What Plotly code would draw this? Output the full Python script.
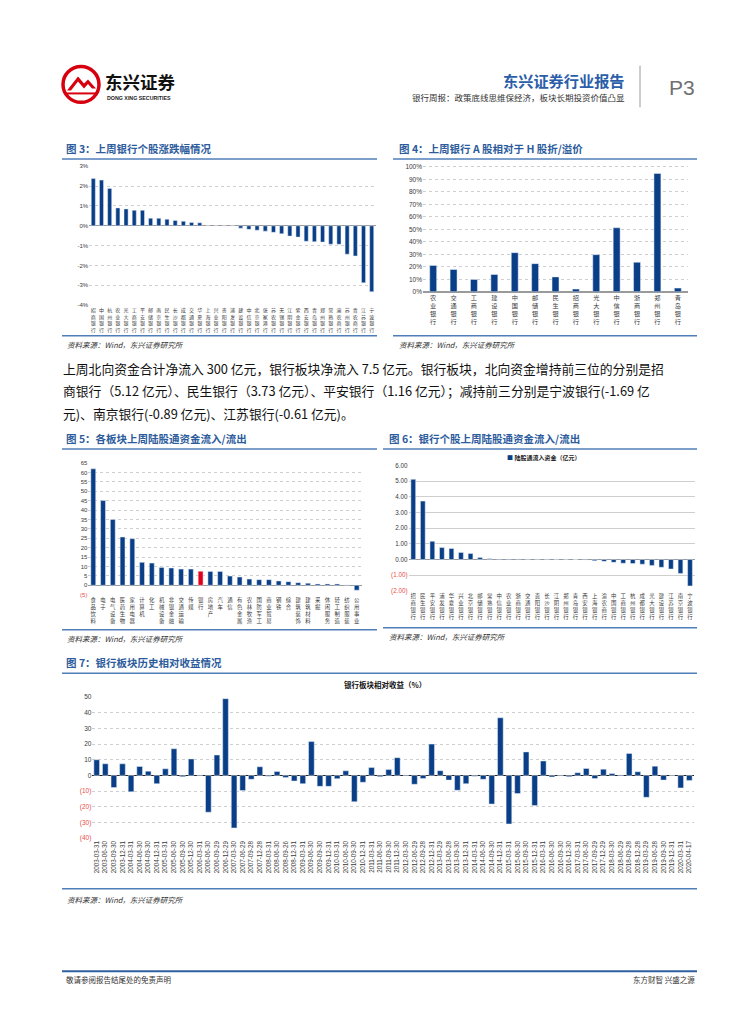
import plotly.graph_objects as go

PAGE_W, PAGE_H = 755, 1024
OFF = 8  # default body margin of the html page
W, H = PAGE_W - 2 * OFF, PAGE_H - 2 * OFF
BLUE = "#0a3f87"
RED_BAR = "#e2001a"
TITLE_BLUE = "#2d5c9c"
LINE_BLUE = "#4f7fb8"
NEG_RED = "#e8504a"
GRID = "#cfcfcf"
FONT = "Noto Sans CJK SC"
NUMFONT = "Liberation Sans"

# ---------------- data ----------------
fig3_banks = ["招商银行", "中国银行", "杭州银行", "农业银行", "光大银行", "工商银行", "平安银行",
              "邮储银行", "南京银行", "民生银行", "长沙银行", "成都银行", "交通银行", "华夏银行",
              "上海银行", "兴业银行", "贵阳银行", "浦发银行", "建设银行", "中信银行", "北京银行",
              "张家港行", "苏农银行", "无锡银行", "江阴银行", "紫金银行", "西安银行", "青岛银行",
              "郑州银行", "常熟银行", "渝农商行", "苏州银行", "青农商行", "江苏银行", "宁波银行"]
fig3_chg = [2.38, 2.30, 1.88, 0.90, 0.85, 0.78, 0.78, 0.38, 0.38, 0.33, 0.27, 0.23, 0.17, 0.15,
            0.0, 0.0, 0.0, 0.0, -0.12, -0.18, -0.22, -0.27, -0.33, -0.40, -0.52, -0.57, -0.78,
            -0.80, -0.82, -0.93, -0.93, -1.43, -1.52, -2.87, -3.32]

fig4_banks = ["农业银行", "交通银行", "工商银行", "建设银行", "中国银行", "邮储银行", "民生银行",
              "招商银行", "光大银行", "中信银行", "浙商银行", "郑州银行", "青岛银行"]
fig4_prem = [21.0, 17.8, 9.8, 13.8, 31.3, 22.5, 11.9, 2.1, 29.7, 51.2, 23.6, 94.7, 2.9]

fig5_sectors = ["食品饮料", "电子", "电气设备", "医药生物", "家用电器", "计算机", "化工", "机械设备",
                "非银金融", "交通运输", "传媒", "银行", "房地产", "汽车", "通信", "有色金属",
                "农林牧渔", "国防军工", "商业贸易", "钢铁", "综合", "建筑装饰", "建筑材料", "采掘",
                "休闲服务", "轻工制造", "纺织服装", "公用事业"]
fig5_flow = [62.0, 45.1, 35.0, 25.7, 24.8, 12.2, 11.8, 9.5, 9.2, 8.6, 8.6, 7.5, 7.4, 7.4, 4.9,
             4.4, 3.3, 3.0, 3.0, 2.3, 1.9, 1.4, 1.1, 0.7, 0.7, 0.7, 0.2, -2.6]
fig5_highlight = "银行"

fig6_banks = ["招商银行", "民生银行", "平安银行", "浦发银行", "华夏银行", "兴业银行", "北京银行",
              "邮储银行", "常熟银行", "中信银行", "农业银行", "浙商银行", "交通银行", "贵阳银行",
              "长沙银行", "江阴银行", "郑州银行", "青岛银行", "西安银行", "上海银行", "渝农商行",
              "中国银行", "工商银行", "杭州银行", "成都银行", "光大银行", "建设银行", "江苏银行",
              "南京银行", "宁波银行"]
fig6_flow = [5.12, 3.73, 1.16, 0.76, 0.70, 0.45, 0.38, 0.12, 0.04, 0.03, 0.03, 0.03, 0.02, 0.02,
             0.02, 0.01, 0.01, 0.00, -0.03, -0.08, -0.12, -0.18, -0.24, -0.26, -0.30, -0.38,
             -0.50, -0.61, -0.89, -1.69]

fig7_dates = ["2003-03-31", "2003-06-30", "2003-09-30", "2003-12-31", "2004-03-31", "2004-06-30",
              "2004-09-30", "2004-12-31", "2005-03-31", "2005-06-30", "2005-09-30", "2005-12-30",
              "2006-03-31", "2006-06-30", "2006-09-29", "2006-12-29", "2007-03-30", "2007-06-29",
              "2007-09-28", "2007-12-28", "2008-03-31", "2008-06-30", "2008-09-26", "2008-12-31",
              "2009-03-31", "2009-06-30", "2009-09-30", "2009-12-31", "2010-03-31", "2010-06-30",
              "2010-09-30", "2010-12-31", "2011-03-31", "2011-06-30", "2011-09-30", "2011-12-30",
              "2012-03-30", "2012-06-29", "2012-09-28", "2012-12-31", "2013-03-29", "2013-06-28",
              "2013-09-30", "2013-12-31", "2014-03-31", "2014-06-30", "2014-09-30", "2014-12-31",
              "2015-03-31", "2015-06-30", "2015-09-30", "2015-12-31", "2016-03-31", "2016-06-30",
              "2016-09-30", "2016-12-30", "2017-03-31", "2017-06-30", "2017-09-29", "2017-12-29",
              "2018-03-30", "2018-06-29", "2018-09-28", "2018-12-28", "2019-03-29", "2019-06-28",
              "2019-09-30", "2019-12-31", "2020-03-31", "2020-04-17"]
fig7_rel = [10.0, 7.4, -7.8, 7.4, -10.5, 5.7, 2.7, -5.3, 4.2, 17.0, -0.8, 10.5,
            0.2, -23.5, 13.0, 49.0, -33.6, -9.7, -2.5, 5.5, -0.6, 2.5, -1.3, -3.6,
            -5.3, 21.6, -7.0, -7.0, -2.1, 2.9, -16.8, -4.4, 5.0, -0.8, 3.7, 11.3,
            0.2, -5.7, -2.0, 20.0, 3.0, -3.0, -9.5, -5.3, -0.5, -2.5, -18.3, 36.8,
            -31.0, -11.6, 15.0, -19.3, 9.2, -1.0, -0.3, -0.8, 1.7, 4.4, -2.0, 4.0,
            1.2, 0.2, 14.0, 2.3, -14.0, 5.9, -3.0, 0.1, -8.0, -3.2]

fig3_yticks = [3, 2, 1, 0, -1, -2, -3, -4]
fig4_yticks = [0, 10, 20, 30, 40, 50, 60, 70, 80, 90, 100]
fig5_yticks = [65, 60, 55, 50, 45, 40, 35, 30, 25, 20, 15, 10, 5, 0, -5]
fig6_yticks = [6, 5, 4, 3, 2, 1, 0, -1, -2]
fig7_yticks = [50, 40, 30, 20, 10, 0, -10, -20, -30, -40]


# ---------------- helpers ----------------
def X(p):
    return (p - OFF) / W


def Y(p):
    return 1 - (p - OFF) / H


def vstack(s):
    return "<br>".join(list(s))


def neg_paren(v, fmt):
    if v < 0:
        return f"<span style='color:{NEG_RED}'>({fmt.format(-v)})</span>"
    return fmt.format(v)


fig = go.Figure()

fig.add_trace(go.Bar(x=fig3_banks, y=fig3_chg, marker_color=BLUE, xaxis="x", yaxis="y",
                     showlegend=False, hoverinfo="skip", width=0.5))
fig.add_trace(go.Bar(x=fig4_banks, y=fig4_prem, marker_color=BLUE, xaxis="x2", yaxis="y2",
                     showlegend=False, hoverinfo="skip", width=0.34))
fig.add_trace(go.Bar(x=fig5_sectors, y=fig5_flow,
                     marker_color=[RED_BAR if s == fig5_highlight else BLUE for s in fig5_sectors],
                     xaxis="x3", yaxis="y3", showlegend=False, hoverinfo="skip", width=0.5))
fig.add_trace(go.Bar(x=fig6_banks, y=fig6_flow, marker_color=BLUE, xaxis="x4", yaxis="y4",
                     showlegend=False, hoverinfo="skip", width=0.5))
fig.add_trace(go.Bar(x=fig7_dates, y=fig7_rel, marker_color=BLUE, xaxis="x5", yaxis="y5",
                     showlegend=False, hoverinfo="skip", width=0.66))

tick_col = "#3a3a3a"


def cat_axis(domain, anchor, cats, labels, size, showline=False, angle=0, family=FONT):
    return dict(domain=[X(domain[0]), X(domain[1])], anchor=anchor, type="category",
                tickmode="array", tickvals=cats, ticktext=labels, tickangle=angle,
                tickfont=dict(size=size, family=family, color=tick_col),
                range=[-0.5, len(cats) - 0.5], showgrid=False, ticks="",
                showline=showline, linecolor="#9a9a9a", linewidth=1, zeroline=False,
                fixedrange=True)


def val_axis(domain_px, anchor, rng, tickvals, ticktext, size, dash="dot", zc="#9a9a9a"):
    return dict(domain=[Y(domain_px[1]), Y(domain_px[0])], anchor=anchor, range=rng,
                tickmode="array", tickvals=tickvals, ticktext=ticktext,
                tickfont=dict(size=size, family=NUMFONT, color=tick_col),
                showgrid=True, gridcolor=GRID, griddash=dash, gridwidth=1,
                zeroline=True, zerolinecolor=zc, zerolinewidth=1, ticks="",
                showline=False, fixedrange=True)


layout_axes = dict(
    xaxis=cat_axis((89.2, 375.8), "y", fig3_banks, [vstack(b) for b in fig3_banks], 5),
    yaxis=val_axis((163.3, 305.3), "x", [-4.05, 3.05], fig3_yticks,
                   [f"{v}%" for v in fig3_yticks], 6),
    xaxis2=cat_axis((423, 688), "y2", fig4_banks, [vstack(b) for b in fig4_banks], 6.2,
                    showline=True),
    yaxis2=val_axis((163.7, 290.7), "x2", [0, 101], fig4_yticks,
                    [f"{v}%" for v in fig4_yticks], 6.5),
    xaxis3=cat_axis((88.4, 361.6), "y3", fig5_sectors, [vstack(s) for s in fig5_sectors], 5.4),
    yaxis3=val_axis((462.4, 596.7), "x3", [-5.5, 65.5], fig5_yticks,
                    [neg_paren(v, "{:d}") for v in fig5_yticks], 6),
    xaxis4=cat_axis((408.5, 694.8), "y4", fig6_banks, [vstack(b) for b in fig6_banks], 5.4),
    yaxis4=val_axis((465.3, 592.3), "x4", [-2.03, 6.03], fig6_yticks,
                    [neg_paren(v, "{:.2f}") for v in fig6_yticks], 6.3, dash="solid"),
    xaxis5=cat_axis((92.4, 693.6), "y5", fig7_dates, fig7_dates, 6.3, angle=-90,
                    family=NUMFONT),
    yaxis5=val_axis((698.1, 841.6), "x5", [-40.5, 50.5], fig7_yticks,
                    [neg_paren(v, "{:d}") for v in fig7_yticks], 6.5, zc="#222222"),
)

# ---------------- shapes ----------------
shapes = []


def hline(x0, x1, y, color=LINE_BLUE, width=1.5):
    shapes.append(dict(type="line", xref="paper", yref="paper", x0=X(x0), x1=X(x1),
                       y0=Y(y), y1=Y(y), line=dict(color=color, width=width)))


for (x0, x1, y) in [(62, 377, 157), (393, 697, 157), (62, 377, 335), (393, 697, 335),
                    (62, 377, 449), (383, 697, 449), (62, 377, 631), (383, 697, 629),
                    (62, 697, 675), (62, 697, 892)]:
    hline(x0, x1, y)
hline(62, 697, 975, color="#2f5f9e", width=2)
# header separator
shapes.append(dict(type="line", xref="paper", yref="paper", x0=X(640), x1=X(640), y0=Y(63),
                   y1=Y(105), line=dict(color="#9a9a9a", width=1)))
# logo
shapes.append(dict(type="circle", xref="paper", yref="paper", x0=X(63), x1=X(99), y0=Y(100),
                   y1=Y(64), line=dict(color="#d7000f", width=3.5), fillcolor="white"))
shapes.append(dict(type="path", xref="paper", yref="paper",
                   path=f"M {X(67)} {Y(88)} L {X(78)} {Y(74)} L {X(84)} {Y(81)} L {X(88)} {Y(77)} "
                        f"L {X(96)} {Y(86)} L {X(92)} {Y(86)} L {X(88)} {Y(81.5)} L {X(84)} {Y(86)} "
                        f"L {X(78)} {Y(79)} L {X(71)} {Y(88)} Z",
                   fillcolor="#d7000f", line=dict(width=0)))
shapes.append(dict(type="line", xref="paper", yref="paper", x0=X(66), x1=X(96), y0=Y(91),
                   y1=Y(91), line=dict(color="#d7000f", width=2)))

# ---------------- annotations ----------------
ann = []


def text(x, y, s, size, color="#222", xanchor="left", bold=False, italic=False, family=FONT,
         yanchor="middle"):
    if bold:
        s = f"<b>{s}</b>"
    if italic:
        s = f"<i>{s}</i>"
    ann.append(dict(x=X(x), y=Y(y), xref="paper", yref="paper", text=s, showarrow=False,
                    xanchor=xanchor, yanchor=yanchor, font=dict(size=size, color=color,
                                                                family=family)))


# header
text(103, 79, "东兴证券", 17.5, color="#111", bold=True)
text(105, 96, "DONG XING SECURITIES", 5.3, color="#222", family=NUMFONT, bold=True)
text(627, 77, "东兴证券行业报告", 15.2, color="#2b5ea8", xanchor="right", bold=True)
text(627, 95, "银行周报：政策底线思维保经济，板块长期投资价值凸显", 8.5, color="#333",
     xanchor="right")
text(667, 85, "P3", 21, color="#707070", family=NUMFONT)

# titles
text(64, 146, "图 3：上周银行个股涨跌幅情况", 10.5, color=TITLE_BLUE, bold=True)
text(397, 146, "图 4：上周银行 A 股相对于 H 股折/溢价", 10.5, color=TITLE_BLUE, bold=True)
text(64, 438, "图 5：各板块上周陆股通资金流入/流出", 10.5, color=TITLE_BLUE, bold=True)
text(387, 438, "图 6：银行个股上周陆股通资金流入/流出", 10.5, color=TITLE_BLUE, bold=True)
text(64, 664, "图 7：银行板块历史相对收益情况", 10.5, color=TITLE_BLUE, bold=True)

# sources
src = "资料来源：Wind，东兴证券研究所"
text(65, 344, src, 7.5, color="#333", italic=True)
text(397, 344, src, 7.5, color="#333", italic=True)
text(65, 640, src, 7.5, color="#333", italic=True)
text(387, 638, src, 7.5, color="#333", italic=True)
text(65, 903, src, 7.5, color="#333", italic=True)

# fig 6 legend
text(543, 458, f"<span style='color:{BLUE}'>■</span> 陆股通流入资金（亿元）", 6, color="#222",
     xanchor="center", bold=True)
# fig 7 chart title
text(385, 686, "银行板块相对收益（%）", 7.5, color="#111", xanchor="center", bold=True)

# paragraph
para = ["上周北向资金合计净流入 300 亿元，银行板块净流入 7.5 亿元。银行板块，北向资金增持前三位的分别是招",
        "商银行（5.12 亿元）、民生银行（3.73 亿元）、平安银行（1.16 亿元）；减持前三分别是宁波银行(-1.69 亿",
        "元)、南京银行(-0.89 亿元)、江苏银行(-0.61 亿元)。"]
for i, line in enumerate(para):
    text(61, 368 + i * 22.5, line, 12.8, color="#111")

# footer
text(64, 983, "敬请参阅报告结尾处的免责声明", 7.5, color="#333")
text(697, 983, "东方财智 兴盛之源", 7.5, color="#333", xanchor="right")

fig.update_layout(
    width=W, height=H, margin=dict(l=0, r=0, t=0, b=0),
    paper_bgcolor="white", plot_bgcolor="white",
    showlegend=False,
    shapes=shapes, annotations=ann,
    **layout_axes,
)

fig.write_html("out.html")
